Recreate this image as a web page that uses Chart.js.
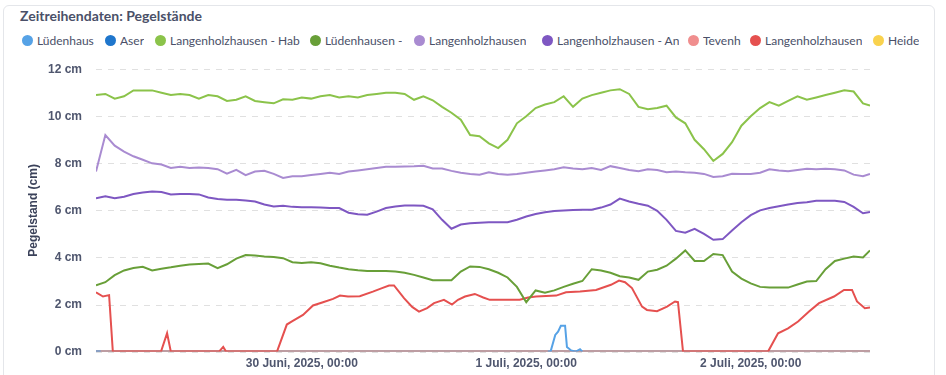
<!DOCTYPE html>
<html lang="de">
<head>
  <meta charset="UTF-8" />
  <title>Zeitreihendaten: Pegelstände</title>
  <script src="https://cdn.jsdelivr.net/npm/chart.js"></script>
  <style>
    html, body { margin: 0; padding: 0; background: #fff; overflow: hidden; }
    body { width: 946px; height: 375px; position: relative; font-family: Lato, "Open Sans", sans-serif; }
    .card { position: absolute; left: 3px; top: 5px; width: 930px; height: 400px;
            border: 1px solid #e4e6ea; border-radius: 6px; }
    .title { position: absolute; left: 20px; top: 7px; font-size: 14px; font-weight: 700; color: #4a5068; }
    .legend { position: absolute; left: 22px; top: 33px; display: flex; white-space: nowrap; }
    .legend .item { display: flex; align-items: center; overflow: hidden; font-size: 12px; color: #4a5068; }
    .legend .dot { width: 11px; height: 11px; border-radius: 50%; margin-right: 4px; flex: none; }
    .legend .txt { overflow: hidden; }
    #chartBox { position: absolute; left: 0; top: 48px; width: 946px; height: 330px; }
  </style>
</head>
<body>
  <div class="card"></div>
  <div class="title">Zeitreihendaten: Pegelstände</div>
  <div class="legend" id="legend"></div>
  <div id="chartBox"><canvas id="pegelChart" width="946" height="330"></canvas></div>

  <script>
    // Zeitachse in Stunden ab 30.06.2025 00:00
    const hours = [-22, -21, -20, -19, -18, -17, -16, -15, -14, -13, -12, -11, -10, -9, -8, -7, -6, -5, -4, -3, -2, -1,
      0, 1, 2, 3, 4, 5, 6, 7, 8, 9, 10, 11, 12, 13, 14, 15, 16, 17, 18, 19, 20, 21, 22, 23,
      24, 25, 26, 27, 28, 29, 30, 31, 32, 33, 34, 35, 36, 37, 38, 39, 40, 41, 42, 43, 44, 45, 46, 47,
      48, 49, 50, 51, 52, 53, 54, 55, 56, 57, 58, 59, 60, 60.75];

    const habValues = [10.9, 10.95, 10.75, 10.85, 11.1, 11.1, 11.1, 11.0, 10.9, 10.95, 10.9, 10.75, 10.9, 10.85, 10.65, 10.7, 10.85, 10.65, 10.6, 10.55, 10.72, 10.7,
      10.8, 10.75, 10.85, 10.9, 10.8, 10.85, 10.8, 10.9, 10.95, 11.0, 11.0, 10.95, 10.7, 10.85, 10.68, 10.4, 10.15, 9.85, 9.2, 9.15, 8.85, 8.65, 9.0, 9.7,
      10.0, 10.35, 10.5, 10.6, 10.85, 10.4, 10.75, 10.9, 11.0, 11.1, 11.15, 10.95, 10.4, 10.3, 10.35, 10.45, 9.95, 9.7, 9.0, 8.6, 8.1, 8.4, 8.9, 9.6,
      10.0, 10.35, 10.6, 10.45, 10.65, 10.85, 10.7, 10.8, 10.9, 11.0, 11.1, 11.05, 10.55, 10.45];

    const langValues = [7.65, 9.2, 8.75, 8.5, 8.3, 8.15, 8.0, 7.95, 7.8, 7.85, 7.8, 7.82, 7.8, 7.75, 7.56, 7.72, 7.5, 7.65, 7.68, 7.55, 7.38, 7.45,
      7.45, 7.5, 7.55, 7.6, 7.55, 7.65, 7.7, 7.75, 7.8, 7.85, 7.85, 7.87, 7.88, 7.9, 7.78, 7.78, 7.68, 7.6, 7.55, 7.52, 7.62, 7.55, 7.52, 7.55,
      7.6, 7.65, 7.7, 7.75, 7.83, 7.78, 7.75, 7.8, 7.72, 7.88, 7.8, 7.72, 7.66, 7.75, 7.72, 7.62, 7.65, 7.62, 7.6, 7.55, 7.42, 7.45, 7.56, 7.55,
      7.55, 7.6, 7.75, 7.7, 7.66, 7.72, 7.77, 7.75, 7.77, 7.75, 7.7, 7.52, 7.45, 7.55];

    const anValues = [6.52, 6.6, 6.52, 6.58, 6.7, 6.76, 6.8, 6.78, 6.68, 6.7, 6.7, 6.68, 6.55, 6.48, 6.45, 6.45, 6.42, 6.38, 6.25, 6.17, 6.2, 6.15,
      6.13, 6.13, 6.12, 6.1, 6.1, 5.9, 5.84, 5.82, 5.95, 6.1, 6.17, 6.21, 6.21, 6.2, 6.05, 5.6, 5.22, 5.4, 5.45, 5.48, 5.5, 5.5, 5.5, 5.6,
      5.74, 5.85, 5.92, 5.97, 6.0, 6.02, 6.03, 6.03, 6.12, 6.25, 6.5, 6.38, 6.28, 6.2, 5.98, 5.6, 5.13, 5.05, 5.22, 5.0, 4.75, 4.78, 5.15, 5.5,
      5.8, 6.0, 6.1, 6.18, 6.25, 6.31, 6.35, 6.41, 6.41, 6.41, 6.36, 6.15, 5.88, 5.93];

    const ludBValues = [2.82, 2.95, 3.25, 3.45, 3.55, 3.6, 3.45, 3.52, 3.58, 3.65, 3.7, 3.72, 3.74, 3.55, 3.71, 3.95, 4.1, 4.08, 4.04, 4.02, 3.97, 3.8,
      3.76, 3.8, 3.75, 3.65, 3.57, 3.5, 3.46, 3.43, 3.43, 3.43, 3.4, 3.35, 3.26, 3.15, 3.03, 3.03, 3.03, 3.4, 3.62, 3.6, 3.5, 3.35, 3.15, 2.75,
      2.1, 2.6, 2.5, 2.6, 2.75, 2.88, 3.0, 3.5, 3.45, 3.35, 3.2, 3.15, 3.05, 3.4, 3.48, 3.65, 3.95, 4.3, 3.85, 3.85, 4.15, 4.1, 3.4, 3.1,
      2.9, 2.75, 2.72, 2.72, 2.72, 2.85, 2.98, 3.0, 3.5, 3.85, 3.95, 4.04, 4.0, 4.3];

    const redTimes = [-22, -21.25, -20.6, -20.2, -15.05, -14.4, -14.0, -8.85, -8.4, -8.1, -2.65, -1.6, -1.05, 0.13, 1.2, 2.27, 3.34, 4.09, 4.94,
      6.2, 7.6, 8.58, 9.33, 9.86, 10.93, 11.8, 12.53, 13.4, 14.14, 15.2, 16.06, 16.7, 17.45, 18.5, 19.4, 20.1, 23.3, 24.2, 25.04,
      27.2, 28.25, 29.75, 31.46, 33.06, 33.92, 34.56, 35.3, 36.38, 36.9, 37.98, 39.05, 39.9, 40.22, 40.76, 49.85, 50.92, 51.99,
      53.06, 54.23, 55.3, 56.9, 57.97, 58.83, 59.36, 60.2, 60.75];
    const redValues = [2.52, 2.34, 2.4, 0, 0, 0.78, 0, 0, 0.2, 0, 0, 1.15, 1.28, 1.56, 1.96, 2.1, 2.24, 2.38, 2.34,
      2.35, 2.55, 2.7, 2.81, 2.81, 2.27, 1.9, 1.7, 1.85, 2.06, 2.2, 2.0, 2.2, 2.34, 2.45, 2.3, 2.2, 2.2, 2.3, 2.34,
      2.38, 2.52, 2.55, 2.62, 2.84, 3.02, 2.95, 2.7, 1.91, 1.77, 1.72, 1.91, 2.13, 2.1, 0, 0, 0.78, 0.99,
      1.28, 1.7, 2.06, 2.34, 2.62, 2.62, 2.13, 1.84, 1.87];

    const ludTimes = [-22, -21.5, -21.4, 26.3, 26.6, 27.1, 27.4, 27.7, 28.15, 28.35, 28.8, 29.3, 29.75, 30.0];
    const ludValues = [0, 0, null, 0, 0, 0.71, 0.85, 1.1, 1.1, 0.2, 0.05, 0, 0.1, 0];

    const zeroTimes = [-22, 60.75];
    const zeroValues = [0, 0];

    const tickHours = [0, 24, 48];
    const tickLabels = ['30 Juni, 2025, 00:00', '1 Juli, 2025, 00:00', '2 Juli, 2025, 00:00'];
    const yTicks = [0, 2, 4, 6, 8, 10, 12];

    const seriesNames = ['Lüdenhaus', 'Aser', 'Langenholzhausen - Hab', 'Lüdenhausen -', 'Langenholzhausen',
      'Langenholzhausen - An', 'Tevenh', 'Langenholzhausen', 'Heide'];
    const seriesColors = ['#56a2e6', '#1f76cc', '#8bc34a', '#689f38', '#a98bd1', '#7e57c2', '#f08e8e', '#e5504f', '#f9d24e'];
    const legendWidths = [83, 50, 155, 104, 128, 146, 62, 123, 50];

    function pts(xs, ys) {
      return xs.map((x, i) => ({ x: x, y: ys[i] }));
    }

    const seriesData = [
      pts(ludTimes, ludValues),
      pts(zeroTimes, zeroValues),
      pts(hours, habValues),
      pts(hours, ludBValues),
      pts(hours, langValues),
      pts(hours, anValues),
      pts(zeroTimes, zeroValues),
      pts(redTimes, redValues),
      pts(zeroTimes, zeroValues)
    ];
    // drawing order: lower = on top
    const drawOrder = [0, 4, 1, 1, 1, 1, 3, 1, 5];

    // HTML legend
    const legend = document.getElementById('legend');
    seriesNames.forEach((name, i) => {
      const item = document.createElement('div');
      item.className = 'item';
      item.style.width = legendWidths[i] + 'px';
      item.innerHTML = '<span class="dot" style="background:' + seriesColors[i] + '"></span><span class="txt">' + name + '</span>';
      legend.appendChild(item);
    });

    // dashed horizontal grid lines, placed with the y scale
    const dashedGrid = {
      id: 'dashedGrid',
      beforeDatasetsDraw(chart) {
        const { ctx, chartArea, scales } = chart;
        ctx.save();
        ctx.strokeStyle = '#e0e0e0';
        ctx.lineWidth = 1;
        ctx.setLineDash([6, 6]);
        yTicks.forEach(v => {
          const y = Math.round(scales.y.getPixelForValue(v)) + 0.5;
          ctx.beginPath();
          ctx.moveTo(chartArea.left, y);
          ctx.lineTo(chartArea.right, y);
          ctx.stroke();
        });
        ctx.restore();
      }
    };

    Chart.defaults.font.family = '"Liberation Sans", Arial, sans-serif';

    new Chart(document.getElementById('pegelChart'), {
      type: 'line',
      data: {
        datasets: seriesNames.map((name, i) => ({
          label: name,
          data: seriesData[i],
          borderColor: seriesColors[i],
          backgroundColor: seriesColors[i],
          borderWidth: 2,
          pointRadius: 0,
          tension: 0,
          spanGaps: false,
          order: drawOrder[i]
        }))
      },
      options: {
        responsive: false,
        animation: false,
        layout: { padding: { top: 11, right: 76, bottom: 2, left: 22 } },
        plugins: {
          legend: { display: false },
          tooltip: { enabled: false }
        },
        scales: {
          x: {
            type: 'linear',
            min: -22,
            max: 60.75,
            grid: { display: false, drawTicks: false },
            border: { display: false },
            afterBuildTicks: scale => { scale.ticks = tickHours.map(v => ({ value: v })); },
            ticks: {
              padding: 5,
              maxRotation: 0,
              autoSkip: false,
              color: '#4f566e',
              font: { size: 12, weight: 'bold' },
              callback: v => tickLabels[tickHours.indexOf(v)]
            }
          },
          y: {
            min: 0,
            max: 12,
            afterBuildTicks: scale => { scale.ticks = yTicks.map(v => ({ value: v })); },
            afterFit: scale => { scale.width = 74; },
            grid: { display: false, drawTicks: false },
            border: { display: false },
            title: {
              display: true,
              text: 'Pegelstand (cm)',
              color: '#3b425a',
              font: { size: 12, weight: 'bold' }
            },
            ticks: {
              padding: 14,
              color: '#4f566e',
              font: { size: 12, weight: 'bold' },
              callback: v => v + ' cm'
            }
          }
        }
      },
      plugins: [dashedGrid]
    });
  </script>
</body>
</html>
